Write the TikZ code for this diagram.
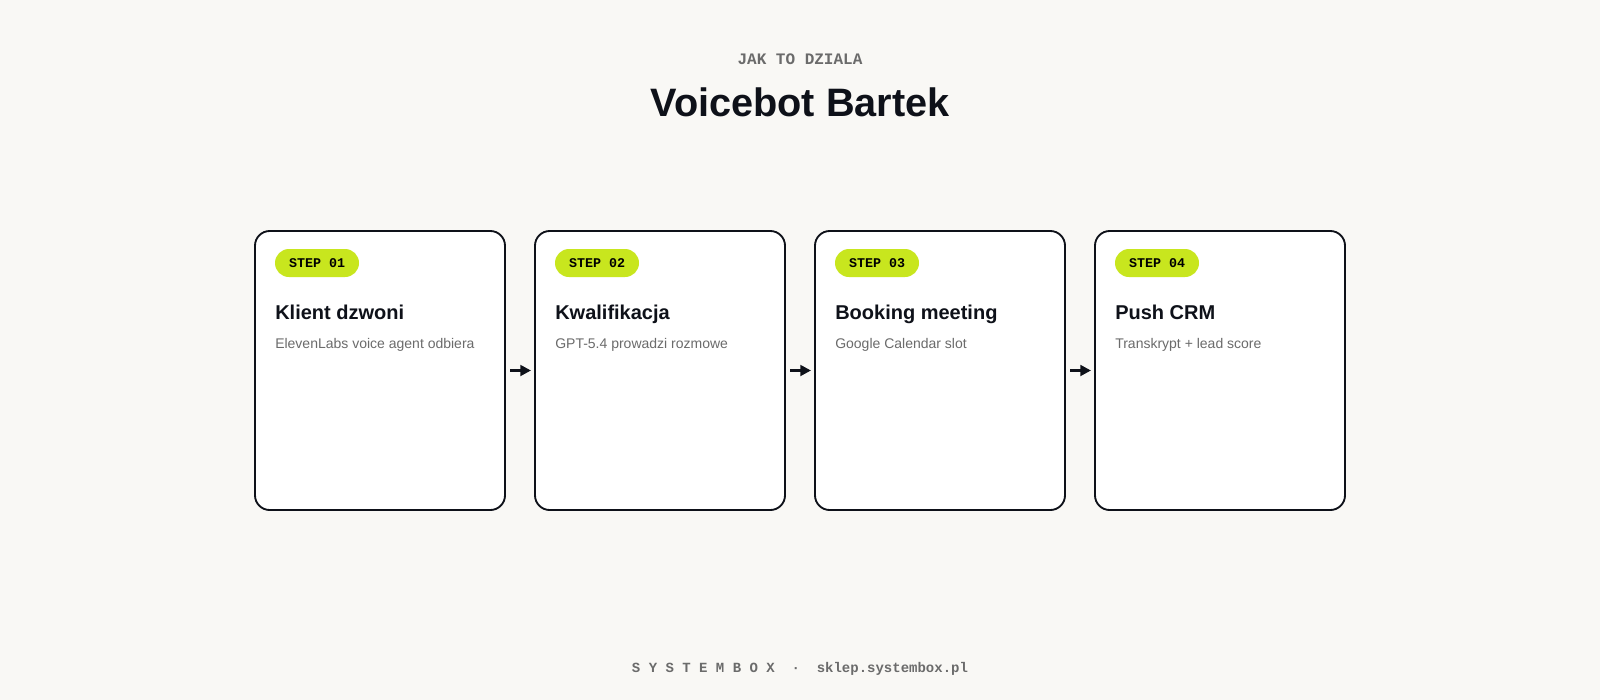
\documentclass[tikz,border=0pt]{standalone}
\usepackage{xcolor}
\usepackage{fontspec}
\setmainfont{Liberation Sans}
\setmonofont{Liberation Mono}
\definecolor{paper}{HTML}{F9F8F5}
\definecolor{ink}{HTML}{0E1119}
\definecolor{muted}{HTML}{6B6B6B}
\definecolor{lime}{HTML}{C8E61E}
\usepackage{tikz}
\usetikzlibrary{arrows.meta,positioning}

\begin{document}
\begin{tikzpicture}[
    x=0.75pt, y=-0.75pt,
    node distance=22.5pt,
    card/.style={rectangle, draw=ink, line width=1.4pt, fill=white, rounded corners=11pt, minimum width=187.5pt, minimum height=209.25pt, outer sep=0pt},
    badge/.style={rectangle, fill=lime, rounded corners=10.5pt, minimum height=21pt, inner xsep=10.5pt, inner ysep=0pt, outer sep=0pt, text=black, font=\ttfamily\bfseries\fontsize{10}{12}\selectfont},
    heading/.style={anchor=base west, inner sep=0pt, text=ink, font=\bfseries\fontsize{15}{18}\selectfont},
    caption/.style={anchor=base west, inner sep=0pt, text=muted, font=\fontsize{10.5}{12.6}\selectfont},
    arrow/.style={-{Triangle[length=8pt,width=8pt]}, line width=2pt, draw=ink, shorten <=3.75pt, shorten >=3pt}
]

% background
\fill[paper] (0,0) rectangle (1600,700);

% header
\node[anchor=base, inner sep=0pt, text=muted, font=\ttfamily\bfseries\fontsize{12}{14}\selectfont] (kicker) at (800,64) {JAK TO DZIALA};
\node[anchor=base, inner sep=0pt, text=ink, font=\bfseries\fontsize{29.75}{34}\selectfont] (title) at (800,116) {Voicebot Bartek};

% steps
\node[card] (card1) at (380,370.5) {};
\node[card, right=of card1] (card2) {};
\node[card, right=of card2] (card3) {};
\node[card, right=of card3] (card4) {};

\node[badge, below right=13.5pt and 15pt of card1.north west] (tag1) {STEP 01};
\node[badge, below right=13.5pt and 15pt of card2.north west] (tag2) {STEP 02};
\node[badge, below right=13.5pt and 15pt of card3.north west] (tag3) {STEP 03};
\node[badge, below right=13.5pt and 15pt of card4.north west] (tag4) {STEP 04};

\node[heading] (head1) at ([shift={(20,88)}]card1.north west) {Klient dzwoni};
\node[heading] (head2) at ([shift={(20,88)}]card2.north west) {Kwalifikacja};
\node[heading] (head3) at ([shift={(20,88)}]card3.north west) {Booking meeting};
\node[heading] (head4) at ([shift={(20,88)}]card4.north west) {Push CRM};

\node[caption] (note1) at ([shift={(20,117)}]card1.north west) {ElevenLabs voice agent odbiera};
\node[caption] (note2) at ([shift={(20,117)}]card2.north west) {GPT-5.4 prowadzi rozmowe};
\node[caption] (note3) at ([shift={(20,117)}]card3.north west) {Google Calendar slot};
\node[caption] (note4) at ([shift={(20,117)}]card4.north west) {Transkrypt + lead score};

\draw[arrow] (card1) -- (card2);
\draw[arrow] (card2) -- (card3);
\draw[arrow] (card3) -- (card4);

% footer
\node[anchor=base, inner sep=0pt, text=muted, font=\ttfamily\bfseries\fontsize{10.5}{12}\selectfont] (footer) at (800,672) {S~Y~S~T~E~M~B~O~X~~·~~sklep.systembox.pl};

\end{tikzpicture}
\end{document}
